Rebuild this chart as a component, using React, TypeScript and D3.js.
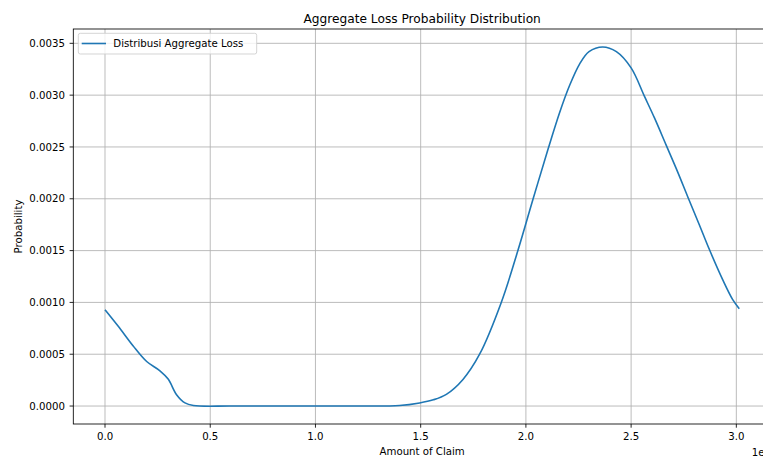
import React from 'react';
import * as d3 from 'd3';

// claim amounts in units of 1e6
const claimAmount = [
  0, 0.063, 0.134, 0.198, 0.261, 0.3, 0.34, 0.38, 0.42, 0.6, 0.9, 1.2, 1.4,
  1.495, 1.56, 1.622, 1.701, 1.78, 1.883, 1.962, 2.033, 2.104, 2.16, 2.207,
  2.255, 2.3, 2.365, 2.43, 2.5, 2.563, 2.611, 2.666, 2.721, 2.769, 2.824,
  2.872, 2.935, 2.982, 3.014,
];
const probability = [
  0.00093, 0.00077, 0.00058, 0.00043, 0.00034, 0.00026, 0.00011, 0.00003,
  0.000005, 0, 0, 0, 0.000005, 0.00003, 0.00006, 0.000113, 0.000257, 0.0005,
  0.001, 0.0015, 0.00199, 0.00247, 0.00283, 0.00309, 0.0033, 0.00342,
  0.003465, 0.00342, 0.003263, 0.00299, 0.00278, 0.00252, 0.00226, 0.00202,
  0.00175, 0.00151, 0.00122, 0.00103, 0.00094,
];
const xTicks = [0, 0.5, 1, 1.5, 2, 2.5, 3];
const yTicks = [0, 0.0005, 0.001, 0.0015, 0.002, 0.0025, 0.003, 0.0035];

const width = 763;
const height = 457;
const plot = { left: 73.3, right: 771, top: 29, bottom: 424 };
const font = 'DejaVu Sans, sans-serif';

export default function App() {
  const xMin = d3.min(claimAmount)!;
  const xMax = d3.max(claimAmount)!;
  const yMin = d3.min(probability)!;
  const yMax = d3.max(probability)!;
  const xPad = (xMax - xMin) * 0.05;
  const yPad = (yMax - yMin) * 0.05;

  const x = d3.scaleLinear().domain([xMin - xPad, xMax + xPad]).range([plot.left, plot.right]);
  const y = d3.scaleLinear().domain([yMin - yPad, yMax + yPad]).range([plot.bottom, plot.top]);

  const pts: [number, number][] = claimAmount.map((c, i) => [c, probability[i]]);
  const line = d3
    .line<[number, number]>()
    .x((d) => x(d[0]))
    .y((d) => y(d[1]))
    .curve(d3.curveCatmullRom.alpha(0.5));

  return (
    <svg
      width={width}
      height={height}
      style={{ position: 'absolute', left: 0, top: 0, background: '#fff' }}
      fontFamily={font}
    >
      <rect x={0} y={0} width={width} height={height} fill="#fff" />
      {/* grid */}
      <g stroke="#b0b0b0" strokeWidth={0.85}>
        {xTicks.map((t) => (
          <line key={'gx' + t} x1={x(t)} x2={x(t)} y1={plot.top} y2={plot.bottom} />
        ))}
        {yTicks.map((t) => (
          <line key={'gy' + t} x1={plot.left} x2={plot.right} y1={y(t)} y2={y(t)} />
        ))}
      </g>

      <path d={line(pts) || ''} fill="none" stroke="#1f77b4" strokeWidth={1.6} />

      {/* spines */}
      <rect
        x={plot.left}
        y={plot.top}
        width={plot.right - plot.left}
        height={plot.bottom - plot.top}
        fill="none"
        stroke="#000"
        strokeWidth={0.85}
      />

      {/* ticks and labels */}
      <g fontSize={10.2} fill="#000">
        {xTicks.map((t) => (
          <g key={'tx' + t}>
            <line x1={x(t)} x2={x(t)} y1={plot.bottom} y2={plot.bottom + 3.7} stroke="#000" strokeWidth={0.85} />
            <text x={x(t)} y={440} textAnchor="middle">
              {d3.format('.1f')(t)}
            </text>
          </g>
        ))}
        {yTicks.map((t) => (
          <g key={'ty' + t}>
            <line x1={plot.left - 3.7} x2={plot.left} y1={y(t)} y2={y(t)} stroke="#000" strokeWidth={0.85} />
            <text x={65} y={y(t)} dy="0.36em" textAnchor="end">
              {d3.format('.4f')(t)}
            </text>
          </g>
        ))}
        <text x={plot.right} y={455.5} textAnchor="end">1e6</text>
        <text x={(plot.left + plot.right) / 2} y={455} textAnchor="middle">Amount of Claim</text>
        <text
          transform={`translate(22,${(plot.top + plot.bottom) / 2}) rotate(-90)`}
          textAnchor="middle"
        >
          Probability
        </text>
      </g>

      <text x={(plot.left + plot.right) / 2} y={22.5} textAnchor="middle" fontSize={12.2} fill="#000">
        Aggregate Loss Probability Distribution
      </text>

      {/* legend */}
      <g>
        <rect x={78.3} y={33.3} width={178.4} height={20.7} rx={2} fill="#fff" fillOpacity={0.8} stroke="#cccccc" strokeWidth={0.85} />
        <line x1={81.7} x2={106} y1={43.5} y2={43.5} stroke="#1f77b4" strokeWidth={1.6} />
        <text x={113.3} y={43.5} dy="0.36em" fontSize={10.2} fill="#000">
          Distribusi Aggregate Loss
        </text>
      </g>
    </svg>
  );
}
